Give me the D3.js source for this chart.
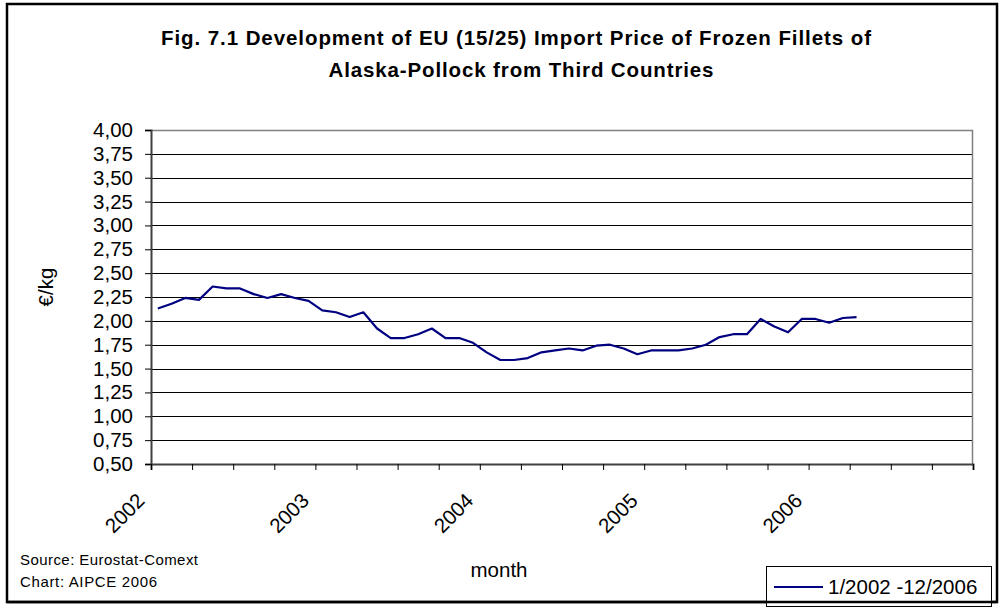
<!DOCTYPE html>
<html>
<head>
<meta charset="utf-8">
<script src="https://cdn.jsdelivr.net/npm/d3@7"></script>
<style>
  body { margin: 0; background: #fff; }
  svg { display: block; font-family: "Liberation Sans", Arial, sans-serif; }
</style>
</head>
<body>
<div id="chart"></div>
<script>
const years = ["2002", "2003", "2004", "2005", "2006"];
const months = [];
years.forEach(y => { for (let m = 1; m <= 12; m++) months.push(m + "/" + y); });

// monthly import price, EUR/kg (1/2002 - 4/2006)
const prices = [
  2.13, 2.18, 2.24, 2.22, 2.36, 2.34, 2.34, 2.28, 2.24, 2.28, 2.24, 2.21,
  2.11, 2.09, 2.04, 2.09, 1.92, 1.82, 1.82, 1.86, 1.92, 1.82, 1.82, 1.77,
  1.67, 1.59, 1.59, 1.61, 1.67, 1.69, 1.71, 1.69, 1.74, 1.75, 1.71, 1.65,
  1.69, 1.69, 1.69, 1.71, 1.75, 1.83, 1.86, 1.86, 2.02, 1.94, 1.88, 2.02,
  2.02, 1.98, 2.03, 2.04
];
const yTicks = [0.5, 0.75, 1, 1.25, 1.5, 1.75, 2, 2.25, 2.5, 2.75, 3, 3.25, 3.5, 3.75, 4];
const seriesName = "1/2002 -12/2006";

const W = 1001, H = 607;
const plot = { left: 151, right: 973, top: 130, bottom: 464 };

const svg = d3.select("#chart").append("svg")
  .attr("width", W).attr("height", H);

// outer frame
svg.append("rect")
  .attr("x", 7).attr("y", 4).attr("width", 990).attr("height", 598)
  .attr("fill", "#fff").attr("stroke", "#000").attr("stroke-width", 2.5);

const x = d3.scaleBand()
  .domain(months)
  .range([plot.left, plot.right])
  .padding(0);

const xIdx = d3.scaleLinear()
  .domain([0, months.length])
  .range([plot.left, plot.right]);

const y = d3.scaleLinear()
  .domain([0.5, 4])
  .range([plot.bottom, plot.top]);

// title
const title = svg.append("text")
  .attr("text-anchor", "middle")
  .attr("font-size", 20.5).attr("font-weight", "bold").attr("fill", "#000");
title.append("tspan").attr("x", 516).attr("y", 45)
  .attr("textLength", 710).attr("lengthAdjust", "spacing")
  .text("Fig. 7.1 Development of EU (15/25) Import Price of Frozen Fillets of");
title.append("tspan").attr("x", 521).attr("y", 77)
  .attr("textLength", 385).attr("lengthAdjust", "spacing")
  .text("Alaska-Pollock from Third Countries");

// gridlines
svg.append("g")
  .selectAll("line")
  .data(yTicks.filter(v => v > 0.5 && v < 4))
  .join("line")
  .attr("x1", plot.left).attr("x2", plot.right)
  .attr("y1", d => Math.round(y(d)) + 0.5).attr("y2", d => Math.round(y(d)) + 0.5)
  .attr("stroke", "#000").attr("stroke-width", 1);

// plot border (top/right)
svg.append("path")
  .attr("d", `M${plot.left},${plot.top + 0.5}H${plot.right - 0.5}V${plot.bottom}`)
  .attr("fill", "none").attr("stroke", "#808080").attr("stroke-width", 1.5);

// y axis
const yAxis = svg.append("g")
  .attr("transform", `translate(${plot.left},0)`)
  .call(d3.axisLeft(y).tickValues(yTicks).tickSize(6).tickPadding(12)
    .tickFormat(d => d3.format(".2f")(d).replace(".", ",")));
yAxis.select(".domain").attr("stroke", "#404040").attr("stroke-width", 2);
yAxis.selectAll(".tick line").attr("stroke", "#000");
yAxis.selectAll(".tick text")
  .attr("font-size", 20.5).attr("font-family", "Liberation Sans, Arial, sans-serif")
  .attr("fill", "#000");

// x axis: tick marks every 3 months
const xAxis = svg.append("g")
  .attr("transform", `translate(0,${plot.bottom})`)
  .call(d3.axisBottom(xIdx).tickValues(d3.range(0, months.length + 1, 3))
    .tickSize(6).tickFormat(""));
xAxis.select(".domain").attr("stroke", "#404040").attr("stroke-width", 2);
xAxis.selectAll(".tick line").attr("stroke", "#000");

// year labels
svg.append("g")
  .selectAll("text")
  .data(years)
  .join("text")
  .attr("text-anchor", "end")
  .attr("font-size", 20.5).attr("fill", "#000")
  .attr("transform", d => `translate(${x("1/" + d) + x.bandwidth() / 2 - 12},502) rotate(-45)`)
  .text(d => d);

// axis titles
svg.append("text")
  .attr("transform", "translate(53,287) rotate(-90)")
  .attr("text-anchor", "middle").attr("font-size", 20.5).attr("fill", "#000")
  .text("€/kg");
svg.append("text")
  .attr("x", 499).attr("y", 577)
  .attr("text-anchor", "middle").attr("font-size", 20.5).attr("fill", "#000")
  .text("month");

// series line
const line = d3.line()
  .x((d, i) => x(months[i]) + x.bandwidth() / 2)
  .y(d => y(d));
svg.append("path")
  .datum(prices)
  .attr("d", line)
  .attr("fill", "none").attr("stroke", "#000080").attr("stroke-width", 2.2)
  .attr("stroke-linejoin", "round");

// source note
svg.append("text").attr("x", 20).attr("y", 565)
  .attr("font-size", 15).attr("fill", "#000")
  .attr("textLength", 178).attr("lengthAdjust", "spacing")
  .text("Source: Eurostat-Comext");
svg.append("text").attr("x", 20).attr("y", 587)
  .attr("font-size", 15).attr("fill", "#000")
  .attr("textLength", 137).attr("lengthAdjust", "spacing")
  .text("Chart: AIPCE 2006");

// legend
const lg = svg.append("g");
lg.append("rect")
  .attr("x", 766.5).attr("y", 566.5).attr("width", 225).attr("height", 40)
  .attr("fill", "#fff").attr("stroke", "#000").attr("stroke-width", 1);
lg.append("line")
  .attr("x1", 774).attr("x2", 823).attr("y1", 587).attr("y2", 587)
  .attr("stroke", "#000080").attr("stroke-width", 2);
lg.append("text")
  .attr("x", 828).attr("y", 594)
  .attr("font-size", 20.5).attr("fill", "#000").text(seriesName);

// redraw bottom frame edge over the legend
svg.append("line")
  .attr("x1", 7).attr("x2", 997).attr("y1", 602).attr("y2", 602)
  .attr("stroke", "#000").attr("stroke-width", 2.5);
</script>
</body>
</html>
